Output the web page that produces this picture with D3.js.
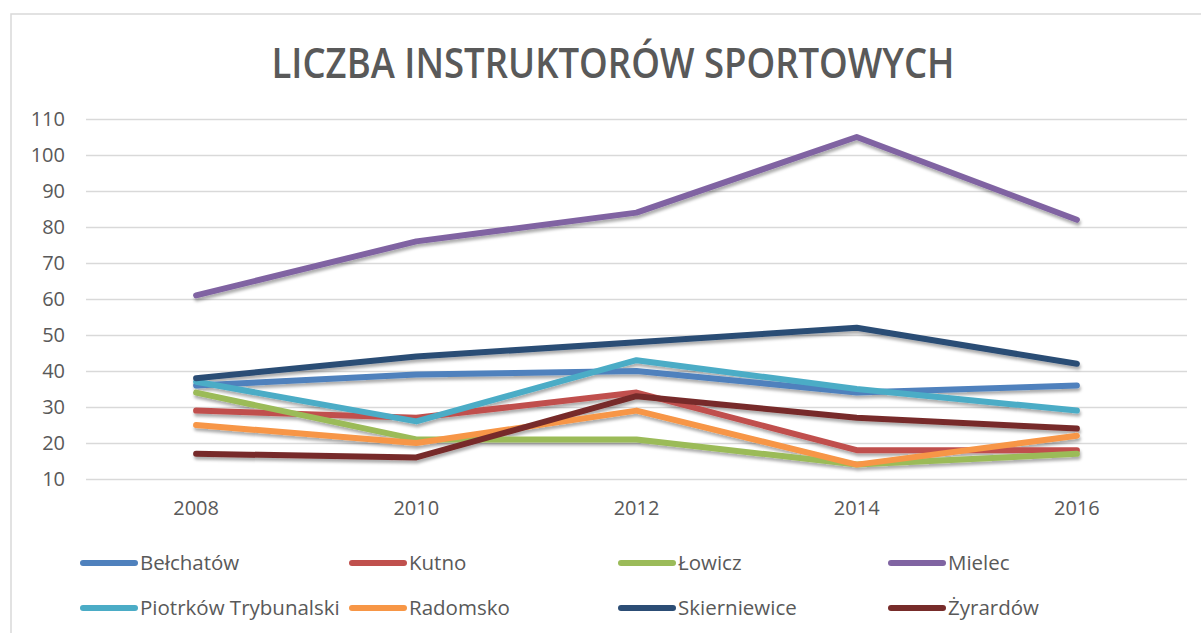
<!DOCTYPE html>
<html>
<head>
<meta charset="utf-8">
<script src="https://cdn.jsdelivr.net/npm/d3@7"></script>
<style>
  html, body { margin: 0; padding: 0; background: #fff; }
  svg { display: block; }
  text { font-family: "Open Sans", sans-serif; fill: #595959; }
</style>
</head>
<body>
<svg id="chart" width="1201" height="633"></svg>
<script>
// Liczba instruktorów sportowych w wybranych miastach, lata 2008–2016
const years = ["2008", "2010", "2012", "2014", "2016"];
const yTicks = [10, 20, 30, 40, 50, 60, 70, 80, 90, 100, 110];

const belchatow     = [36, 39, 40, 34, 36];
const kutno         = [29, 27, 34, 18, 18];
const lowicz        = [34, 21, 21, 14, 17];
const mielec        = [61, 76, 84, 105, 82];
const piotrkow      = [37, 26, 43, 35, 29];
const radomsko      = [25, 20, 29, 14, 22];
const skierniewice  = [38, 44, 48, 52, 42];
const zyrardow      = [17, 16, 33, 27, 24];

const seriesNames  = ["Bełchatów", "Kutno", "Łowicz", "Mielec", "Piotrków Trybunalski", "Radomsko", "Skierniewice", "Żyrardów"];
const seriesValues = [belchatow, kutno, lowicz, mielec, piotrkow, radomsko, skierniewice, zyrardow];
const seriesColors = ["#4F81BD", "#C0504D", "#9BBB59", "#8064A2", "#4BACC6", "#F79646", "#2C4D75", "#772C2A"];

const title = "LICZBA INSTRUKTORÓW SPORTOWYCH";

const svg = d3.select("#chart");

// outer chart frame
svg.append("rect")
  .attr("x", 11).attr("y", 14)
  .attr("width", 1300).attr("height", 700)
  .attr("fill", "#fff")
  .attr("stroke", "#D9D9D9")
  .attr("stroke-width", 1.5);

// soft shadow under the lines
const defs = svg.append("defs");
const f = defs.append("filter").attr("id", "shadow")
  .attr("x", "-5%").attr("y", "-20%").attr("width", "110%").attr("height", "140%");
f.append("feDropShadow")
  .attr("dx", 1).attr("dy", 3).attr("stdDeviation", 1.8)
  .attr("flood-color", "#000").attr("flood-opacity", 0.32);

svg.append("text")
  .attr("x", 613).attr("y", 78)
  .attr("text-anchor", "middle")
  .attr("font-size", 42)
  .attr("font-weight", 600)
  .attr("textLength", 683)
  .attr("lengthAdjust", "spacingAndGlyphs")
  .text(title);

const x = d3.scaleBand().domain(years).range([86, 1187]);
const y = d3.scaleLinear().domain([10, 110]).range([479, 119]);

// horizontal gridlines
const yAxis = d3.axisLeft(y).tickValues(yTicks)
  .tickSize(-(1187 - 86)).tickPadding(21);
const gy = svg.append("g").attr("transform", "translate(86,0)").call(yAxis);
gy.select(".domain").remove();
gy.selectAll(".tick line").attr("stroke", "#D9D9D9").attr("stroke-width", 1.6);
gy.selectAll(".tick text")
  .attr("font-size", 20).attr("fill", "#595959")
  .attr("font-family", "'Open Sans', sans-serif");

// category labels
const xAxis = d3.axisBottom(x).tickSize(0).tickPadding(22);
const gx = svg.append("g").attr("transform", "translate(0,479)").call(xAxis);
gx.select(".domain").remove();
gx.selectAll(".tick text")
  .attr("font-size", 20).attr("fill", "#595959")
  .attr("font-family", "'Open Sans', sans-serif");

const line = d3.line()
  .x((d, i) => x(years[i]) + x.bandwidth() / 2)
  .y(d => y(d));

svg.append("g").attr("filter", "url(#shadow)")
  .selectAll("path")
  .data(seriesValues)
  .join("path")
  .attr("d", line)
  .attr("fill", "none")
  .attr("stroke", (d, i) => seriesColors[i])
  .attr("stroke-width", 6)
  .attr("stroke-linecap", "round")
  .attr("stroke-linejoin", "round");

// legend: 4 columns, 2 rows
const legendCols = [83, 352, 621, 891];
const legendRows = [563, 608];
const leg = svg.append("g")
  .selectAll("g")
  .data(seriesNames)
  .join("g")
  .attr("transform", (d, i) => `translate(${legendCols[i % 4]},${legendRows[Math.floor(i / 4)]})`);
leg.append("line")
  .attr("x1", 0).attr("x2", 52).attr("y1", 0).attr("y2", 0)
  .attr("stroke", (d, i) => seriesColors[i])
  .attr("stroke-width", 6)
  .attr("stroke-linecap", "round");
leg.append("text")
  .attr("x", 57).attr("y", 0)
  .attr("dy", "0.35em")
  .attr("font-size", 20.5)
  .text(d => d);
</script>
</body>
</html>
